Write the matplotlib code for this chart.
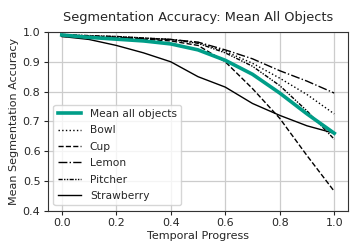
import numpy as np
import matplotlib
matplotlib.use("Agg")
import matplotlib.pyplot as plt

# ----------------------------
# Data
# ----------------------------
progress = [0.0, 0.1, 0.2, 0.3, 0.4, 0.5, 0.6, 0.7, 0.8, 0.9, 1.0]

mean_all = [0.990, 0.982, 0.976, 0.970, 0.960, 0.940, 0.905, 0.858, 0.795, 0.725, 0.660]
bowl = [0.990, 0.987, 0.985, 0.980, 0.975, 0.965, 0.935, 0.895, 0.845, 0.790, 0.725]
cup = [0.985, 0.982, 0.980, 0.976, 0.970, 0.955, 0.900, 0.810, 0.710, 0.585, 0.465]
lemon = [0.990, 0.986, 0.982, 0.978, 0.975, 0.966, 0.940, 0.910, 0.870, 0.835, 0.795]
pitcher = [0.992, 0.988, 0.985, 0.980, 0.975, 0.962, 0.930, 0.885, 0.820, 0.735, 0.640]
strawberry = [0.985, 0.975, 0.955, 0.930, 0.900, 0.850, 0.815, 0.760, 0.720, 0.685, 0.660]

TEAL = "#009e88"
TEXT = "#262626"

plt.rcParams["text.color"] = TEXT
plt.rcParams["axes.labelcolor"] = TEXT
plt.rcParams["xtick.color"] = TEXT
plt.rcParams["ytick.color"] = TEXT

fig = plt.figure(figsize=(3.59, 2.52), dpi=100)
ax = fig.add_axes([0.134, 0.164, 0.835, 0.709])

ax.plot(progress, mean_all, color=TEAL, linewidth=2.6, label="Mean all objects", zorder=3)
ax.plot(progress, bowl, color="black", linewidth=1.0, linestyle=":", label="Bowl")
ax.plot(progress, cup, color="black", linewidth=1.0, linestyle="--", label="Cup")
ax.plot(progress, lemon, color="black", linewidth=1.0, linestyle="-.", label="Lemon")
ax.plot(progress, pitcher, color="black", linewidth=1.0,
        linestyle=(0, (3, 1, 1, 1, 1, 1)), label="Pitcher")
ax.plot(progress, strawberry, color="black", linewidth=1.0, label="Strawberry")

ax.set_xlim(-0.05, 1.05)
ax.set_ylim(0.4, 1.0)
ax.set_xticks([0.0, 0.2, 0.4, 0.6, 0.8, 1.0])
ax.set_yticks([0.4, 0.5, 0.6, 0.7, 0.8, 0.9, 1.0])
ax.tick_params(labelsize=8, length=3, width=0.8, pad=2.5)
ax.grid(True, color="#cccccc", linewidth=0.9)
ax.set_axisbelow(True)
for s in ax.spines.values():
    s.set_color("#333333")
    s.set_linewidth(0.8)

ax.set_xlabel("Temporal Progress", fontsize=8, labelpad=2)
ax.set_ylabel("Mean Segmentation Accuracy", fontsize=8, labelpad=3)
ax.set_title("Segmentation Accuracy: Mean All Objects", fontsize=9.3, pad=8)

ax.legend(loc="lower left", fontsize=7.7, handlelength=2.2, labelspacing=0.6,
          framealpha=0.8, edgecolor="#cccccc", borderpad=0.4)

plt.savefig("out.png", dpi=100)
